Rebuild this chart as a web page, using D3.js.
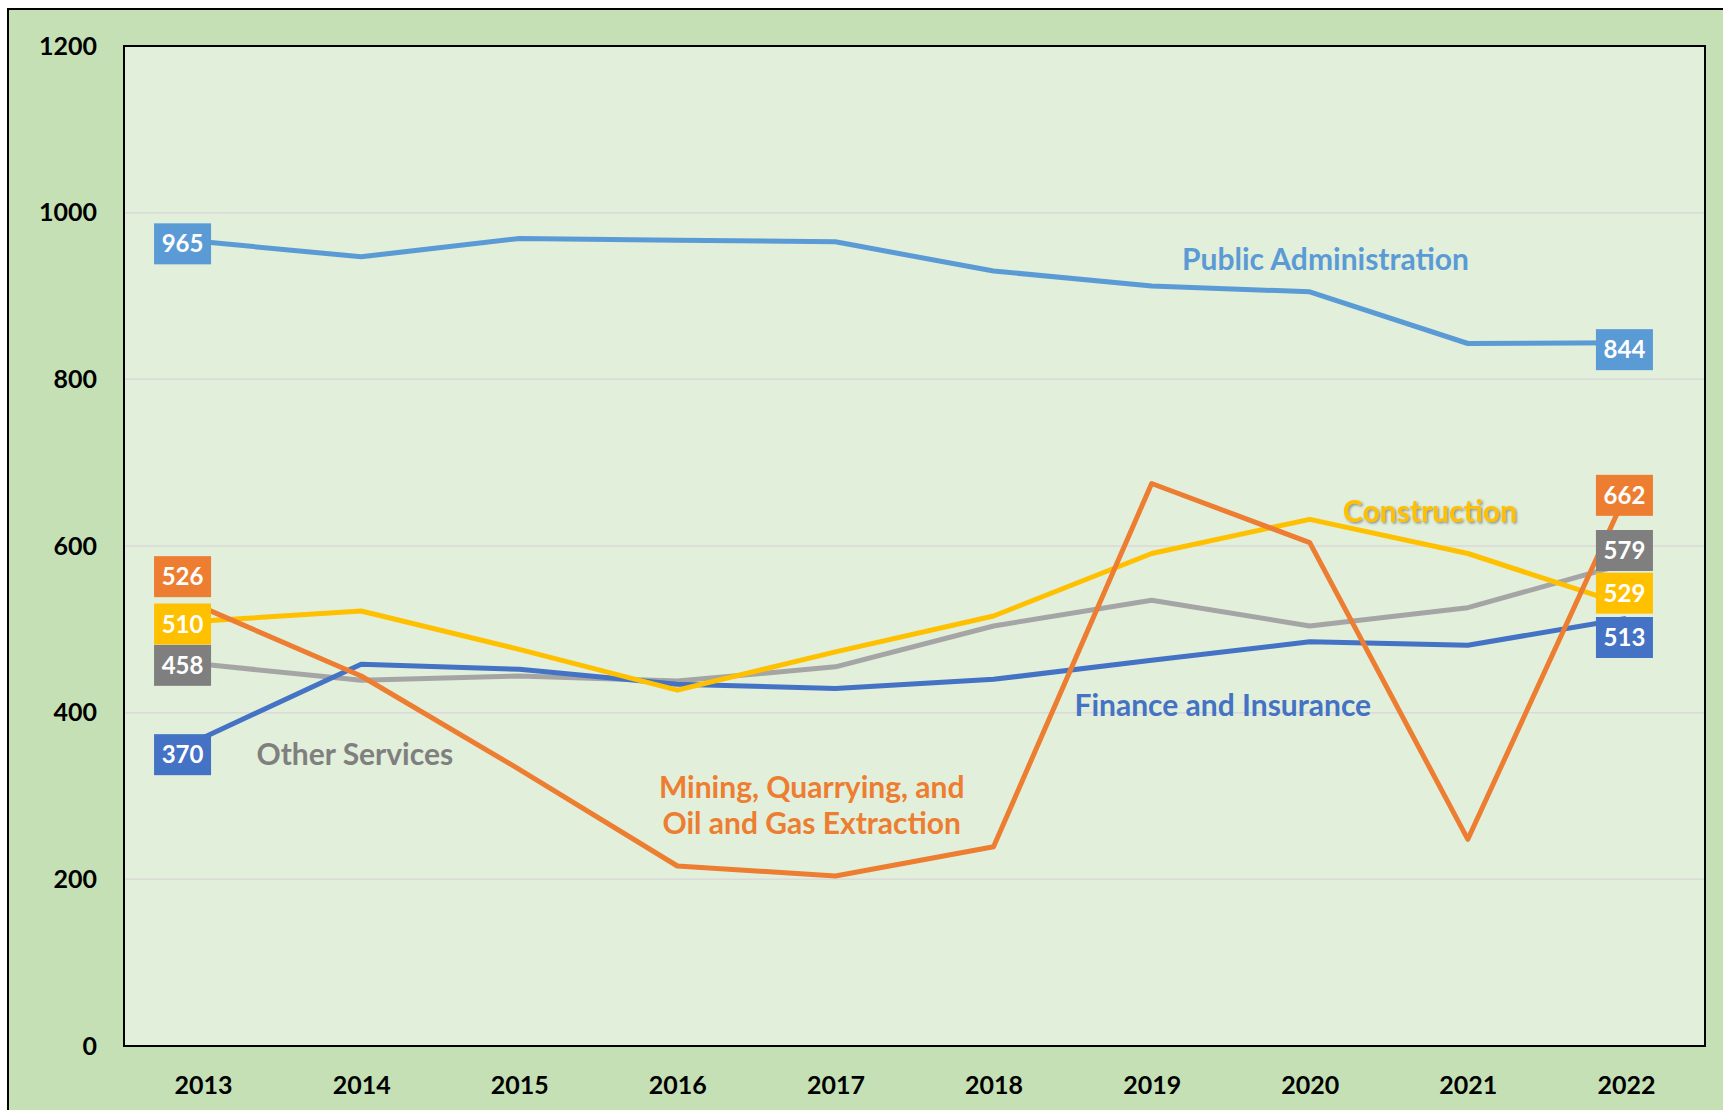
<!DOCTYPE html>
<html>
<head>
<meta charset="utf-8">
<script src="https://cdn.jsdelivr.net/npm/d3@7"></script>
<style>
  body { margin: 0; background: #fff; }
  svg { display: block; font-family: Lato, "Noto Sans", sans-serif; }
</style>
</head>
<body>
<svg id="chart" width="1723" height="1110"></svg>
<script>
// values
const years = [2013, 2014, 2015, 2016, 2017, 2018, 2019, 2020, 2021, 2022];
const publicAdmin = [965, 947, 969, 967, 965, 930, 912, 905, 843, 844];
const mining = [526, 444, 332, 216, 204, 239, 675, 604, 248, 662];
const construction = [510, 522, 476, 427, 473, 516, 591, 632, 591, 529];
const otherServices = [458, 439, 444, 438, 455, 504, 535, 504, 526, 579];
const finance = [370, 458, 452, 434, 429, 440, 463, 485, 481, 513];
const yTicks = [0, 200, 400, 600, 800, 1000, 1200];

// series: draw order bottom -> top
const series = [
    { name: "Other Services", values: otherServices, line: "#A5A5A5", box: "#7F7F7F", text: "#7F7F7F",
      label: { x: 2013.96, y: 350 }, nudge: [1, -13] },
    { name: "Finance and Insurance", values: finance, line: "#4472C4", box: "#4472C4", text: "#4472C4",
      label: { x: 2019.45, y: 409 }, nudge: [17, 19] },
    { name: "Construction", values: construction, line: "#FFC000", box: "#FFC000", text: "#FFC000",
      label: { x: 2020.76, y: 642 }, nudge: [3, -12], shadow: true },
    { name: ["Mining, Quarrying, and", "Oil and Gas Extraction"], values: mining, line: "#ED7D31", box: "#ED7D31", text: "#ED7D31",
      label: { x: 2016.85, y: 289 }, nudge: [-31, 1] },
    { name: "Public Administration", values: publicAdmin, line: "#5B9BD5", box: "#5B9BD5", text: "#5B9BD5",
      label: { x: 2020.10, y: 944 }, nudge: [2, 7] }
];

const W = 1723, H = 1110;
const plot = { left: 124, top: 46, right: 1705, bottom: 1046 };

const svg = d3.select("#chart");

// outer chart area
svg.append("rect")
    .attr("x", 8).attr("y", 9)
    .attr("width", W + 20).attr("height", H + 20)
    .attr("fill", "#C5E0B4")
    .attr("stroke", "#000")
    .attr("stroke-width", 2);

const x = d3.scaleLinear([years[0] - 0.5, years[years.length - 1] + 0.5], [plot.left, plot.right]);
const y = d3.scaleLinear([0, 1200], [plot.bottom, plot.top]);

svg.append("rect")
    .attr("x", plot.left).attr("y", plot.top)
    .attr("width", plot.right - plot.left).attr("height", plot.bottom - plot.top)
    .attr("fill", "#E2EFDA");

// gridlines
svg.append("g")
    .selectAll("line")
    .data(yTicks.filter(d => d > 0 && d < 1200))
    .enter()
    .append("line")
    .attr("x1", plot.left).attr("x2", plot.right)
    .attr("y1", d => y(d)).attr("y2", d => y(d))
    .attr("stroke", "#D9D9D9")
    .attr("stroke-width", 1.5);

svg.append("rect")
    .attr("x", plot.left).attr("y", plot.top)
    .attr("width", plot.right - plot.left).attr("height", plot.bottom - plot.top)
    .attr("fill", "none")
    .attr("stroke", "#000")
    .attr("stroke-width", 2);

// axes
const yAxis = svg.append("g")
    .attr("transform", `translate(${plot.left},0)`)
    .call(d3.axisLeft(y).tickValues(yTicks).tickFormat(d3.format("d")).tickSize(0).tickPadding(27));
yAxis.select(".domain").remove();
yAxis.selectAll("text")
    .attr("font-size", "25px")
    .attr("font-weight", "bold")
    .attr("font-family", "Lato, sans-serif")
    .attr("fill", "#000");

const xAxis = svg.append("g")
    .attr("transform", `translate(0,${plot.bottom})`)
    .call(d3.axisBottom(x).tickValues(years).tickFormat(d3.format("d")).tickSize(0));
xAxis.select(".domain").remove();
xAxis.selectAll("text")
    .attr("y", 39)
    .attr("dy", "0.35em")
    .attr("font-size", "25px")
    .attr("font-weight", "bold")
    .attr("font-family", "Lato, sans-serif")
    .attr("fill", "#000");

// shadow for the construction label
const defs = svg.append("defs");
defs.append("filter")
    .attr("id", "shadow")
    .attr("x", "-10%").attr("y", "-30%").attr("width", "120%").attr("height", "160%")
    .append("feDropShadow")
    .attr("dx", 1.5).attr("dy", 1.5).attr("stdDeviation", 0.8)
    .attr("flood-color", "#555").attr("flood-opacity", 0.6);

const line = d3.line()
    .x((d, i) => x(years[i]))
    .y(d => y(d));

svg.append("g")
    .selectAll("path")
    .data(series)
    .enter()
    .append("path")
    .attr("d", d => line(d.values))
    .attr("fill", "none")
    .attr("stroke", d => d.line)
    .attr("stroke-width", 5)
    .attr("stroke-linejoin", "round");

// end labels (boxes)
const boxW = 57, boxH = 41;
const ends = [];
series.forEach(s => {
    ends.push({ s, i: 0, dx: -20.5, dy: s.nudge[0] });
    ends.push({ s, i: years.length - 1, dx: -1.5, dy: s.nudge[1] });
});

const boxes = svg.append("g")
    .selectAll("g")
    .data(ends)
    .enter()
    .append("g")
    .attr("transform", d => `translate(${x(years[d.i]) + d.dx},${y(d.s.values[d.i]) + d.dy})`);

boxes.append("rect")
    .attr("x", -boxW / 2).attr("y", -boxH / 2)
    .attr("width", boxW).attr("height", boxH)
    .attr("fill", d => d.s.box);

boxes.append("text")
    .attr("text-anchor", "middle")
    .attr("dy", "0.36em")
    .attr("font-size", "24px")
    .attr("font-weight", "bold")
    .attr("fill", "#fff")
    .text(d => d.s.values[d.i]);

// series name labels
series.forEach(s => {
    const names = Array.isArray(s.name) ? s.name : [s.name];
    const t = svg.append("text")
        .attr("x", x(s.label.x))
        .attr("y", y(s.label.y))
        .attr("text-anchor", "middle")
        .attr("font-size", "30px")
        .attr("font-weight", "bold")
        .attr("fill", s.text);
    if (s.shadow) t.attr("filter", "url(#shadow)");
    names.forEach((n, k) => {
        t.append("tspan")
            .attr("x", x(s.label.x))
            .attr("dy", k === 0 ? `${0.35 - (names.length - 1) * 0.6}em` : "1.2em")
            .text(n);
    });
});
</script>
</body>
</html>
